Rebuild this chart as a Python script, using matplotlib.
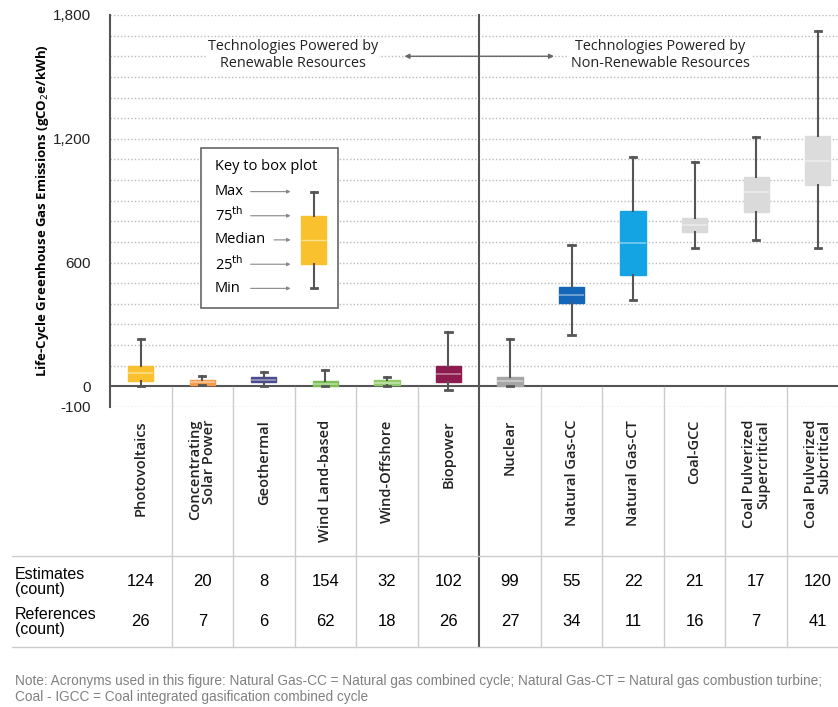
import matplotlib
matplotlib.use('Agg')
import matplotlib.pyplot as plt
import matplotlib.colors as mcolors
from matplotlib.patches import Rectangle
from matplotlib.lines import Line2D
from matplotlib.transforms import blended_transform_factory
from matplotlib import font_manager as fm

# data
categories = ["Photovoltaics", "Concentrating\nSolar Power", "Geothermal", "Wind Land-based",
              "Wind-Offshore", "Biopower", "Nuclear", "Natural Gas-CC", "Natural Gas-CT",
              "Coal-GCC", "Coal Pulverized\nSupercritical", "Coal Pulverized\nSubcritical"]
whislo = [2, 5, 3, 2, 3, -19, 1, 247, 420, 672, 710, 672]
q1 = [27, 8, 20, 4, 5, 21, 3, 404, 541, 748, 845, 977]
med = [64, 20, 32, 12, 17, 60, 24, 441, 697, 781, 940, 1094]
q3 = [101, 31, 45, 24, 31, 97, 44, 481, 852, 818, 1017, 1214]
whishi = [230, 48, 68, 81, 44, 262, 230, 683, 1114, 1087, 1208, 1722]
box_colors = ["#F8C12D", "#F29B4C", "#4B4B8F", "#7BBF55", "#92CC6A", "#8E1B50",
              "#A6A6A6", "#1466B8", "#14A3E3", "#D9D9D9", "#DADADA", "#DCDCDC"]
estimates = [124, 20, 8, 154, 32, 102, 99, 55, 22, 21, 17, 120]
references = [26, 7, 6, 62, 18, 26, 27, 34, 11, 16, 7, 41]
key_stats = [475, 592, 710, 827, 944]   # min, 25th, median, 75th, max
key_labels = ["Min", "25$^{\\mathrm{th}}$", "Median", "75$^{\\mathrm{th}}$", "Max"]


def pick(name, fallback="DejaVu Sans"):
    try:
        fm.findfont(fm.FontProperties(family=name), fallback_to_default=False)
        return name
    except Exception:
        return fallback


narrow = pick("Liberation Sans Narrow", "Liberation Sans")
main = pick("Open Sans")
plt.rcParams['font.family'] = [main, 'DejaVu Sans']

dark = "#555555"
W, H = 838, 707
fig = plt.figure(figsize=(W / 100, H / 100), dpi=100)
ax = fig.add_axes([110 / W, 1 - 407 / H, 1 - 110 / W, (407 - 15) / H])
ax.set_xlim(-0.5, 11.33)
ax.set_ylim(-100, 1800)

n = len(categories)
stats = [dict(whislo=whislo[i], q1=q1[i], med=med[i], q3=q3[i], whishi=whishi[i], fliers=[])
         for i in range(n)]
bp = ax.bxp(stats, positions=range(n), widths=0.41, patch_artist=True, showfliers=False,
            whiskerprops=dict(color=dark, lw=1.5), capprops=dict(color=dark, lw=2),
            capwidths=0.1, manage_ticks=False, zorder=3)
for i, c in enumerate(box_colors):
    bp['boxes'][i].set_facecolor(c)
    bp['boxes'][i].set_edgecolor(c)
    light = [0.55 * v + 0.45 for v in mcolors.to_rgb(c)]
    bp['medians'][i].set_color(light)
    bp['medians'][i].set_linewidth(1.2)

# grid, spines, ticks
for y in range(-100, 1801, 100):
    if y != 0:
        ax.axhline(y, color="#BBBBBB", lw=1, ls=(0, (1, 1.5)), zorder=0)
ax.axhline(0, color=dark, lw=1.5, zorder=2)
for s in ["top", "right", "bottom"]:
    ax.spines[s].set_visible(False)
ax.spines["left"].set_color(dark)
ax.spines["left"].set_linewidth(1.5)
ax.set_xticks([])
ax.set_yticks([-100, 0, 600, 1200, 1800])
ax.set_yticklabels(["-100", "0", "600", "1,200", "1,800"], family=narrow, fontsize=11, color="#222222")
ax.tick_params(axis="y", length=0, pad=14)
ax.set_ylabel("Life-Cycle Greenhouse Gas Emissions (gCO$_2$e/kWh)", fontsize=9.5,
              fontweight="bold", labelpad=1)

tr = blended_transform_factory(ax.transData, fig.transFigure)


def fy(py):
    return 1 - py / H


# column separators and divider
for i in range(n - 1):
    xs = i + 0.5
    if i == 5:
        fig.add_artist(Line2D([xs, xs], [fy(15), fy(647)], transform=tr, color=dark, lw=1.5))
    else:
        fig.add_artist(Line2D([xs, xs], [fy(387), fy(647)], transform=tr, color="#CCCCCC", lw=1))
for py in [556, 647]:
    fig.add_artist(Line2D([12 / W, 1], [fy(py), fy(py)], color="#CCCCCC", lw=1))

# category labels
for i, lab in enumerate(categories):
    fig.text(i, fy(420), lab, transform=tr, rotation=90, ha="center", va="top",
             multialignment="right", fontsize=10.5, fontweight="semibold", color="#222222",
             linespacing=0.95)

# table
fig.text(15 / W, fy(582), "Estimates\n(count)", family=narrow, fontsize=11.5, va="center",
         linespacing=1.0)
fig.text(15 / W, fy(622), "References\n(count)", family=narrow, fontsize=11.5, va="center",
         linespacing=1.0)
for i in range(n):
    fig.text(i, fy(582), str(estimates[i]), transform=tr, ha="center", va="center",
             family=narrow, fontsize=12)
    fig.text(i, fy(622), str(references[i]), transform=tr, ha="center", va="center",
             family=narrow, fontsize=12)

fig.text(15 / W, fy(689), "Note: Acronyms used in this figure: Natural Gas-CC = Natural gas combined cycle; "
         "Natural Gas-CT = Natural gas combustion turbine;\nCoal - IGCC = Coal integrated gasification "
         "combined cycle", family=narrow, fontsize=9.8, color="#808080", va="center", linespacing=1.25)

# group headers
ax.annotate("", xy=(6.76, 1600), xytext=(4.24, 1600),
            arrowprops=dict(arrowstyle="<|-|>", color="#666666", lw=1, mutation_scale=7))
ax.text(2.47, 1605, "Technologies Powered by\nRenewable Resources", ha="center", va="center",
        fontsize=10.4, color="#222222", linespacing=1.15,
        bbox=dict(fc="white", ec="none", pad=1))
ax.text(8.44, 1605, "Technologies Powered by\nNon-Renewable Resources", ha="center", va="center",
        fontsize=10.4, color="#222222", linespacing=1.15,
        bbox=dict(fc="white", ec="none", pad=1))

# key to box plot
ax.add_patch(Rectangle((0.976, 381), 3.2 - 0.976, 1156 - 381, fc="white", ec="#666666",
                       lw=1.2, zorder=4))
ax.text(1.2, 1065, "Key to box plot", fontsize=10.5, va="center", zorder=5)
key = ax.bxp([dict(whislo=key_stats[0], q1=key_stats[1], med=key_stats[2], q3=key_stats[3],
                   whishi=key_stats[4], fliers=[])], positions=[2.81], widths=0.41,
             patch_artist=True, showfliers=False, manage_ticks=False,
             whiskerprops=dict(color=dark, lw=1.5), capprops=dict(color=dark, lw=2),
             capwidths=0.1, zorder=5)
key['boxes'][0].set_facecolor("#F8C12D")
key['boxes'][0].set_edgecolor("#F8C12D")
key['medians'][0].set_color("#FBE08F")
for lab, v in zip(key_labels, key_stats):
    ax.text(1.2, v, lab, fontsize=10.5, va="center", zorder=5)
    x0 = 2.12 if lab == "Median" else 1.74
    ax.annotate("", xy=(2.48, v), xytext=(x0, v), zorder=5,
                arrowprops=dict(arrowstyle="-|>", color="#888888", lw=0.8, mutation_scale=5))

fig.savefig("out.png", dpi=100)
